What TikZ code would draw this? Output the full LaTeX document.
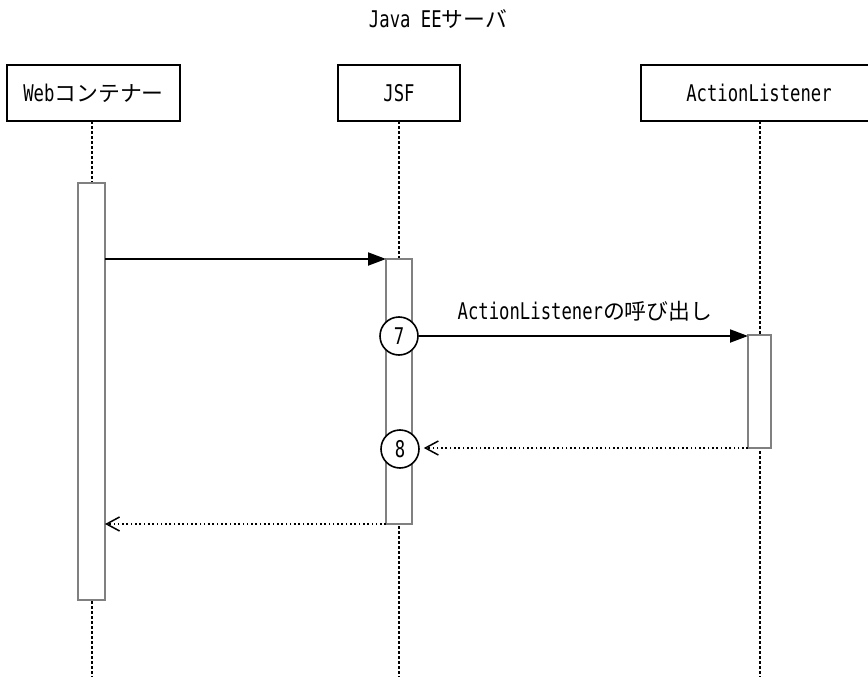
\documentclass[tikz,border=0pt]{standalone}
\usepackage{fontspec}
\setmainfont[FakeStretch=0.75]{DejaVu Sans Mono}
\newfontfamily\jp[Scale=0.95]{Noto Sans CJK JP}
\usetikzlibrary{arrows.meta}
\begin{document}
\begin{tikzpicture}[x=1pt,y=-1pt,
  every node/.style={font=\fontsize{23}{27}\selectfont},
  head/.style={draw, line width=2pt, fill=white, inner sep=0pt, outer sep=0pt, minimum height=56pt},
  act/.style={draw=black!50, line width=1.3pt, fill=white, inner sep=0pt, outer sep=0pt, anchor=north},
  life/.style={line width=2pt, dash pattern=on 3pt off 2pt},
  callarrow/.style={line width=2pt, -{Triangle[length=18pt,width=13pt]}},
  retarrow/.style={line width=1.6pt, dash pattern=on 1.6pt off 2.7pt, -{Straight Barb[length=13pt,width=14pt,line width=1.5pt]}},
  num/.style={draw, circle, line width=1.6pt, fill=white, minimum size=38pt, inner sep=0pt}]
\useasboundingbox (0,0) rectangle (868,677);
\coordinate (bot) at (0,677);

\node (title) at (438,19) {Java EE{\jp サーバ}};

\node[head, minimum width=173pt] (web) at (93.5,93) {Web{\jp コンテナー}};
\node[head, minimum width=122pt] (jsf) at (399,93) {JSF};
\node[head, minimum width=236pt] (al) at (759,93) {ActionListener};

\coordinate (webx) at (92,0);
\coordinate (jsfx) at (399,0);
\coordinate (alx) at (759.5,0);
\draw[life] (webx |- web.south) -- (webx |- bot);
\draw[life] (jsfx |- jsf.south) -- (jsfx |- bot);
\draw[life] (alx |- al.south) -- (alx |- bot);

\node[act, minimum width=27pt, minimum height=417pt] (webact) at (91.5,183) {};
\node[act, minimum width=26pt, minimum height=265pt] (jsfact) at (399,259) {};
\node[act, minimum width=23pt, minimum height=113pt] (alact) at (759.5,335) {};

\node[num] (c7) at (399,336) {7};
\node[num] (c8) at (400,449) {8};

\draw[callarrow] (webact.east |- jsfact.north west) -- (jsfact.north west);
\draw[callarrow] (c7.east) -- (alact.north west |- c7.east);
\node (lbl) at (585,311) {ActionListener{\jp の呼び出し}};
\draw[retarrow, shorten >=4pt] (alact.south west) -- (c8.east |- alact.south west);
\draw[retarrow] (jsfact.south west) -- (webact.east |- jsfact.south west);
\end{tikzpicture}
\end{document}
